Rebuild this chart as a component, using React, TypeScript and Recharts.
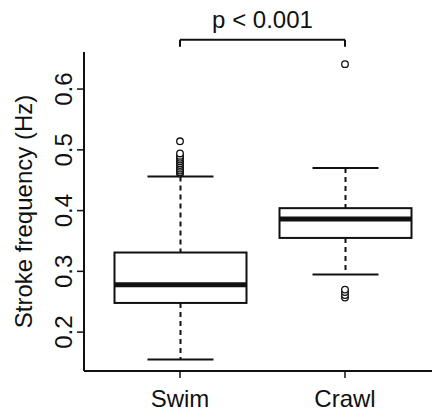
import React from 'react'
import { ComposedChart, Bar, Scatter, XAxis, YAxis, ReferenceLine } from 'recharts'

const FONT = '"Liberation Sans", Arial, Helvetica, sans-serif'
const INK = '#111'

const CATEGORIES = ['Swim', 'Crawl']
const WHISKER_LOW = [0.155, 0.295]
const Q1 = [0.248, 0.355]
const MEDIAN = [0.278, 0.386]
const Q3 = [0.331, 0.404]
const WHISKER_HIGH = [0.456, 0.47]
const SWIM_OUTLIERS = [0.461, 0.463, 0.466, 0.469, 0.472, 0.475, 0.478, 0.481, 0.484, 0.487, 0.49, 0.494, 0.514]
const CRAWL_OUTLIERS = [0.257, 0.261, 0.266, 0.27, 0.641]
const Y_TICKS = [0.2, 0.3, 0.4, 0.5, 0.6]
const Y_DOMAIN = [0.136, 0.661]
const BRACKET_Y = 0.681
const BRACKET_TIP = 0.6696
const P_LABEL = 'p < 0.001'

const boxes = CATEGORIES.map((cat, i) => ({
  cat,
  low: WHISKER_LOW[i],
  q1: Q1[i],
  med: MEDIAN[i],
  q3: Q3[i],
  high: WHISKER_HIGH[i],
  range: [WHISKER_LOW[i], WHISKER_HIGH[i]],
}))

const outliers = [
  ...SWIM_OUTLIERS.map((v) => ({ cat: 'Swim', v })),
  ...CRAWL_OUTLIERS.map((v) => ({ cat: 'Crawl', v })),
]

// one box-and-whisker, drawn inside the range bar the library laid out
const BoxShape = (props: any) => {
  const { x, y, width, height, payload } = props
  const top = Math.min(y, y + height)
  const h = Math.abs(height)
  const { low, q1, med, q3, high } = payload
  const py = (v: number) => top + ((high - v) / (high - low)) * h
  const cx = x + width / 2
  const cap = width / 4
  return (
    <g>
      <line x1={cx} x2={cx} y1={py(high)} y2={py(q3)} stroke={INK} strokeWidth={2} strokeDasharray="5 4" />
      <line x1={cx} x2={cx} y1={py(q1)} y2={py(low)} stroke={INK} strokeWidth={2} strokeDasharray="5 4" />
      <line x1={cx - cap} x2={cx + cap} y1={py(high)} y2={py(high)} stroke={INK} strokeWidth={2} />
      <line x1={cx - cap} x2={cx + cap} y1={py(low)} y2={py(low)} stroke={INK} strokeWidth={2} />
      <rect x={x} y={py(q3)} width={width} height={py(q1) - py(q3)} fill="#fff" stroke={INK} strokeWidth={2} />
      <line x1={x} x2={x + width} y1={py(med)} y2={py(med)} stroke={INK} strokeWidth={5} />
    </g>
  )
}

const YTick = ({ x, y, payload }: any) => (
  <text
    transform={`translate(${x - 3},${y}) rotate(-90)`}
    textAnchor="middle"
    fontSize={24}
    fontFamily={FONT}
    fill={INK}
  >
    {Number(payload.value).toFixed(1)}
  </text>
)

export default function App() {
  return (
    <div style={{ position: 'absolute', left: 0, top: 0, width: 432, height: 412, overflow: 'hidden', background: '#fff' }}>
      <ComposedChart width={445} height={412} data={boxes} margin={{ top: 52, right: 4, bottom: 0, left: 0 }}>
        <XAxis
          dataKey="cat"
          type="category"
          allowDuplicatedCategory={false}
          padding={{ left: 13.5, right: 13.5 }}
          height={41}
          tickSize={7}
          tickMargin={12}
          axisLine={{ stroke: INK, strokeWidth: 2 }}
          tickLine={{ stroke: INK, strokeWidth: 1.5 }}
          tick={{ fontSize: 24, fill: INK, fontFamily: FONT }}
        />
        <XAxis
          xAxisId="top"
          orientation="top"
          dataKey="cat"
          type="category"
          allowDuplicatedCategory={false}
          height={0}
          tick={false}
          tickLine={false}
          axisLine={{ stroke: INK, strokeWidth: 2 }}
        />
        <YAxis
          type="number"
          domain={Y_DOMAIN}
          ticks={Y_TICKS}
          width={84}
          tickSize={7}
          allowDataOverflow
          axisLine={{ stroke: INK, strokeWidth: 2 }}
          tickLine={{ stroke: INK, strokeWidth: 1.5 }}
          tick={<YTick />}
          label={{
            value: 'Stroke frequency (Hz)',
            angle: -90,
            position: 'insideLeft',
            offset: 23,
            style: { textAnchor: 'middle', fontSize: 24, fill: INK, fontFamily: FONT },
          }}
        />
        <Bar dataKey="range" barSize={132} shape={<BoxShape />} isAnimationActive={false} />
        <Scatter
          data={outliers}
          dataKey="v"
          isAnimationActive={false}
          shape={(p: any) => <circle cx={p.cx} cy={p.cy} r={3.3} fill="#fff" stroke={INK} strokeWidth={1.3} />}
        />
        <ReferenceLine
          segment={[{ x: 'Swim', y: BRACKET_Y }, { x: 'Crawl', y: BRACKET_Y }]}
          ifOverflow="visible"
          stroke={INK}
          strokeWidth={2}
          label={{ value: P_LABEL, position: 'top', offset: 12, fontSize: 24, fill: INK, fontFamily: FONT }}
        />
        <ReferenceLine segment={[{ x: 'Swim', y: BRACKET_Y }, { x: 'Swim', y: BRACKET_TIP }]} ifOverflow="visible" stroke={INK} strokeWidth={2} />
        <ReferenceLine segment={[{ x: 'Crawl', y: BRACKET_Y }, { x: 'Crawl', y: BRACKET_TIP }]} ifOverflow="visible" stroke={INK} strokeWidth={2} />
      </ComposedChart>
    </div>
  )
}
